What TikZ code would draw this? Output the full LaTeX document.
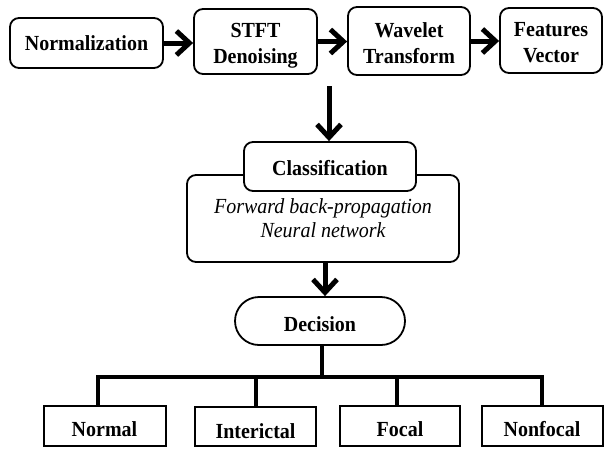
\documentclass[tikz,border=0pt]{standalone}
\usepackage{fontspec}
\setmainfont{Liberation Serif}[FakeStretch=0.93]
\usetikzlibrary{arrows.meta}
\newcommand\twoln[2]{\vtop{\halign{\hfil##\hfil\cr #1\cr #2\cr}}}
\tikzset{
  base/.style={font=\fontsize{21.5}{26}\selectfont\bfseries, draw, line width=1.8pt, inner sep=0pt},
  rbox/.style={base, rounded corners=9pt},
  one/.style={text height=14pt, text depth=0pt},
  two/.style={text height=14pt, text depth=23pt},
  leaf/.style={base, line width=2pt, minimum height=40pt, text height=20pt, text depth=0pt},
  arr/.style={line width=5pt, -{Straight Barb[length=13pt,width=24pt]}},
  tree/.style={line width=4pt, line join=miter}
}
\begin{document}
\begin{tikzpicture}[x=1pt,y=-1pt]
\useasboundingbox (0,0) rectangle (604,448);
% top row
\node[rbox, one, minimum width=153pt, minimum height=50pt] (norm) at (86.5,43) {Normalization};
\node[rbox, two, minimum width=123pt, minimum height=65pt] (stft) at (255.5,41.5) {\twoln{STFT}{Denoising}};
\node[rbox, text height=14pt, text depth=22pt, minimum width=122pt, minimum height=68pt] (wave) at (409,41) {\twoln{Wavelet}{Transform}};
\node[rbox, two, minimum width=102pt, minimum height=65pt] (feat) at (551,40.5) {\twoln{Features}{Vector}};
\draw[arr] (norm.east) -- (norm.east -| stft.west);
\draw[arr] (stft.east) -- (stft.east -| wave.west);
\draw[arr] (wave.east) -- (wave.east -| feat.west);
% classification
\node[rbox, font=\fontsize{21.5}{24}\selectfont\itshape, text height=14pt, text depth=25pt, minimum width=272pt, minimum height=87pt] (outer) at (323,218.5) {\twoln{Forward back-propagation}{Neural network}};
\node[rbox, fill=white, text height=17pt, text depth=0pt, minimum width=172pt, minimum height=49pt] (cls) at (330,166.5) {Classification};
\coordinate (start) at (329,86);
\draw[arr] (start) -- (start |- cls.north);
% decision
\node[base, rounded corners=24pt, text height=20pt, text depth=0pt, minimum width=170pt, minimum height=48pt] (dec) at (320,321) {Decision};
\draw[arr] ([xshift=2pt]outer.south) -- ([xshift=2pt]outer.south |- dec.north);
% leaves
\node[leaf, minimum width=122pt] (normal) at (104.5,426) {Normal};
\node[leaf, minimum width=121pt, minimum height=39pt, text height=23pt] (inter) at (255.5,426.5) {Interictal};
\node[leaf, minimum width=120pt] (focal) at (400,426) {Focal};
\node[leaf, minimum width=121pt] (nonf) at (542,426) {Nonfocal};
\coordinate (bus) at (320,377);
\draw[tree] ([xshift=-6.5pt]normal.north) -- ([xshift=-6.5pt]normal.north |- bus) -- (nonf.north |- bus) -- (nonf.north);
\draw[tree] ([xshift=2pt]dec.south) -- ([xshift=2pt]dec.south |- bus);
\draw[tree] (inter.north) -- (inter.north |- bus);
\draw[tree] ([xshift=-3pt]focal.north) -- ([xshift=-3pt]focal.north |- bus);
\end{tikzpicture}
\end{document}
